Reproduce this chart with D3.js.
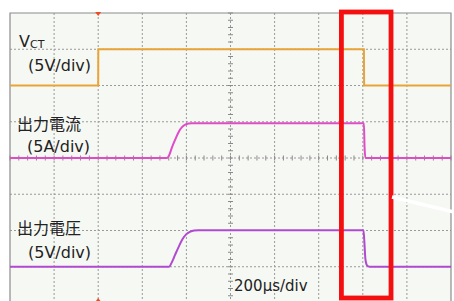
<!DOCTYPE html>
<html><head><meta charset="utf-8">
<script src="https://cdn.jsdelivr.net/npm/d3@7"></script>
<style>body{margin:0;background:#fff}svg{display:block}</style>
</head><body>
<script>
// time in µs, amplitude in divisions from bottom of screen
const timeTicks = d3.range(0, 2001, 200);
const divTicks = d3.range(0, 9, 1);
const vctT = [0, 400, 400.5, 1605, 1606, 2000];
const vctV = [6.0, 6.0, 7.0, 7.0, 6.0, 6.0];
const curT = [0, 712, 722, 735, 750, 765, 780, 795, 810, 825, 845, 1605, 1608, 1612, 2000];
const curV = [4.0, 4.0, 4.08, 4.3, 4.52, 4.72, 4.85, 4.92, 4.95, 4.96, 4.96, 4.96, 4.3, 4.0, 4.0];
const volT = [0, 722, 732, 748, 765, 782, 800, 818, 835, 855, 880, 1603, 1607, 1612, 1620, 1630, 2000];
const volV = [1.0, 1.0, 1.1, 1.32, 1.55, 1.76, 1.9, 1.97, 2.0, 2.01, 2.01, 2.01, 1.7, 1.2, 1.03, 1.0, 1.0];
const labels = ["V", "(5V/div)", "出力電流", "(5A/div)", "出力電圧", "(5V/div)"];
const timeLabel = "200μs/div";
const highlight = [1503, 1728];
const triggerT = 400;

const W = 454, H = 301;
const x = d3.scaleLinear().domain([0, 2000]).range([10, 451]);
const y = d3.scaleLinear().domain([0, 8]).range([303, 13]);

const svg = d3.select("body").append("svg").attr("width", W).attr("height", H);
svg.append("rect").attr("x", x(0)).attr("y", y(8)).attr("width", x(2000) - x(0)).attr("height", y(0) - y(8)).attr("fill", "#f6f8f3");

// grid
svg.append("g").selectAll("line").data(timeTicks.slice(1, -1)).join("line")
  .attr("x1", d => x(d)).attr("x2", d => x(d)).attr("y1", y(8)).attr("y2", y(0))
  .attr("stroke", "#9a9a9a").attr("stroke-width", 1).attr("stroke-dasharray", "2,2");
svg.append("g").selectAll("line").data(divTicks.slice(1, -1)).join("line")
  .attr("y1", d => y(d)).attr("y2", d => y(d)).attr("x1", x(0)).attr("x2", x(2000))
  .attr("stroke", "#9a9a9a").attr("stroke-width", 1).attr("stroke-dasharray", "2,2");
// minor ticks on centre lines
const minorX = d3.range(0, 2001, 40);
const minorY = d3.range(0, 8.01, 0.2);
svg.append("g").selectAll("line").data(minorX).join("line")
  .attr("x1", d => x(d)).attr("x2", d => x(d)).attr("y1", y(4) - 2.5).attr("y2", y(4) + 2.5)
  .attr("stroke", "#8a8a8a").attr("stroke-width", 1);
svg.append("g").selectAll("line").data(minorY).join("line")
  .attr("y1", d => y(d)).attr("y2", d => y(d)).attr("x1", x(1000) - 2.5).attr("x2", x(1000) + 2.5)
  .attr("stroke", "#8a8a8a").attr("stroke-width", 1);
// border
svg.append("path").attr("d", `M${x(0)},${y(0)}V${y(8)}H${x(2000)}V${y(0)}`)
  .attr("fill", "none").attr("stroke", "#8c8c8c").attr("stroke-width", 1.2);

// traces
const line = d3.line().x(d => x(d[0])).y(d => y(d[1]));
const lineC = d3.line().x(d => x(d[0])).y(d => y(d[1])).curve(d3.curveMonotoneX);
svg.append("path").datum(vctT.map((t, i) => [t, vctV[i]])).attr("d", line)
  .attr("fill", "none").attr("stroke", "#e8a438").attr("stroke-width", 2);
svg.append("path").datum(curT.map((t, i) => [t, curV[i]])).attr("d", lineC)
  .attr("fill", "none").attr("stroke", "#e04cc8").attr("stroke-width", 2);
svg.append("path").datum(volT.map((t, i) => [t, volV[i]])).attr("d", lineC)
  .attr("fill", "none").attr("stroke", "#b04ad0").attr("stroke-width", 2);

// trigger markers
svg.append("path").attr("d", `M${x(triggerT) - 3},${y(8) - 1}L${x(triggerT) + 3},${y(8) - 1}L${x(triggerT)},${y(8) + 3}Z`).attr("fill", "#f04a20");
svg.append("path").attr("d", `M${x(triggerT) - 3},${H + 1}L${x(triggerT) + 3},${H + 1}L${x(triggerT)},${H - 3}Z`).attr("fill", "#f04a20");

// labels
const font = "'DejaVu Sans','Noto Sans CJK JP',sans-serif";
const cjk = "'Noto Sans CJK JP',sans-serif";
const t0 = svg.append("text").attr("x", 19).attr("y", 47).attr("font-family", font).attr("font-size", 16).attr("fill", "#222");
t0.append("tspan").text(labels[0]);
t0.append("tspan").attr("font-size", 11).attr("dy", 1).text("CT");
svg.append("text").attr("x", 28).attr("y", 71).attr("font-family", font).attr("font-size", 16).attr("fill", "#222").text(labels[1]);
svg.append("text").attr("x", 17).attr("y", 130).attr("font-family", cjk).attr("font-size", 16).attr("fill", "#222").text(labels[2]);
svg.append("text").attr("x", 27).attr("y", 152).attr("font-family", font).attr("font-size", 16).attr("fill", "#222").text(labels[3]);
svg.append("text").attr("x", 17).attr("y", 234).attr("font-family", cjk).attr("font-size", 16).attr("fill", "#222").text(labels[4]);
svg.append("text").attr("x", 28).attr("y", 258).attr("font-family", font).attr("font-size", 16).attr("fill", "#222").text(labels[5]);
svg.append("text").attr("x", 234).attr("y", 291).attr("font-family", font).attr("font-size", 15).attr("fill", "#222").text(timeLabel);

// highlight box
svg.append("rect").attr("x", x(highlight[0])).attr("y", 12).attr("width", x(highlight[1]) - x(highlight[0]))
  .attr("height", 286).attr("fill", "none").attr("stroke", "#f41010").attr("stroke-width", 4.8);
// white leader stroke
svg.append("line").attr("x1", x(highlight[1]) + 1).attr("y1", 197).attr("x2", W).attr("y2", 212)
  .attr("stroke", "#fff").attr("stroke-width", 3.5);
</script>
</body></html>
